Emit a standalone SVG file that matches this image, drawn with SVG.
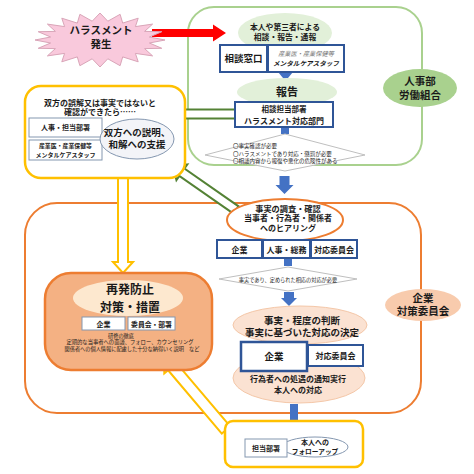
<svg xmlns="http://www.w3.org/2000/svg" width="474" height="474" viewBox="0 0 474 474">
<style>
text{font-family:"Noto Sans CJK JP","Noto Sans",sans-serif;fill:#1a1a1a;text-anchor:middle;font-weight:bold}
.bb{fill:#fff;stroke:#2f5597;stroke-width:2}
.gb{fill:#fff;stroke:#8497b0;stroke-width:1}
.dia{fill:#fff;stroke:#bfbfbf;stroke-width:1}
.blue{fill:#4472c4}
.garr{fill:#fff;stroke:#548235;stroke-width:2;stroke-linejoin:miter}
.yarr{fill:#fff;stroke:#ffc000;stroke-width:2}
.lg{fill:#e2f0d9}
.sm{font-weight:normal}
</style>
<rect width="474" height="474" fill="#fff"/>
<g id="frame-hr">
<rect x="188" y="7" width="234" height="158" rx="26" fill="none" stroke="#a9d18e" stroke-width="2"/>
</g>
<g id="frame-committee">
<rect x="25" y="203" width="396" height="210" rx="32" fill="none" stroke="#ed7d31" stroke-width="2"/>
</g>
<g id="connectors">
<polygon points="152,29 213,29 213,24.5 226,33 213,41.5 213,37 152,37" fill="#ff0000"/>
<polygon class="garr" points="0,-4.5 51,-4.5 51,-9 61,0 51,9 51,4.5 0,4.5" transform="translate(236,114) rotate(180)"/>
<polygon class="garr" points="0,-4.5 66,-4.5 66,-9.5 77,0 66,9.5 66,4.5 0,4.5" transform="translate(236,210) rotate(214.9)"/>
<polygon class="yarr" points="0,-5 84,-5 84,-10 95,0 84,10 84,5 0,5" transform="translate(123,178) rotate(90)"/>
<polygon class="yarr" points="0,-5.5 83,-5.5 83,-10.5 96,0 83,10.5 83,5.5 0,5.5" transform="translate(226,430) rotate(229.7)"/>
<polygon class="blue" points="278,72 293,72 285.5,81"/>
<rect class="blue" x="281" y="128" width="8" height="6"/>
<polygon class="blue" points="279.5,176 289.5,176 289.5,185 293.5,185 284.5,194 275.5,185 279.5,185"/>
<rect class="blue" x="284" y="258" width="8" height="8"/>
<polygon class="blue" points="284,292 294,292 294,298 297,298 289,306 281,298 284,298"/>
<polygon class="blue" points="290,404 298,404 298,427 301.5,427 294,436 286.5,427 290,427"/>
</g>
<g id="harassment">
<polygon points="165,40 149.4,43 161.8,48.3 144.6,48.6 152.6,55.9 135.4,53.4 138.2,61.8 122.7,56.9 120.1,65.7 107.8,58.8 100,67 92.2,58.8 79.9,65.7 77.3,56.9 61.8,61.8 64.6,53.4 47.4,55.9 55.4,48.6 38.2,48.3 50.6,43 35,40 50.6,37 38.2,31.7 55.4,31.4 47.4,24.1 64.6,26.6 61.8,18.2 77.3,23.1 79.9,14.3 92.2,21.2 100,13 107.8,21.2 120.1,14.3 122.7,23.1 138.2,18.2 135.4,26.6 152.6,24.1 144.6,31.4 161.8,31.7 149.4,37" fill="#f9c9dc" stroke="#d9a5b8" stroke-width="1"/>
<text x="101" y="34" font-size="10.5">ハラスメント</text>
<text x="101" y="47.5" font-size="10.5">発生</text>
</g>
<g id="report-source">
<ellipse class="lg" cx="285" cy="33" rx="47" ry="20"/>
<text x="285" y="29.5" font-size="7.8">本人や第三者による</text>
<text x="285" y="40" font-size="7.8">相談・報告・通報</text>
</g>
<g id="consult-desk">
<rect class="bb" x="220" y="45" width="47" height="27"/>
<text x="243.5" y="62" font-size="9.5">相談窓口</text>
<rect class="bb" x="268" y="45" width="76" height="27"/>
<text x="306" y="55.5" font-size="6.2" font-style="italic" class="sm" style="fill:#777">産業医・産業保健等</text>
<text x="306" y="66" font-size="6.6" font-style="italic">メンタルケアスタッフ</text>
</g>
<g id="report">
<ellipse class="lg" cx="287" cy="92" rx="50" ry="14"/>
<text x="287" y="96" font-size="11">報告</text>
</g>
<g id="dept">
<rect class="bb" x="235" y="102" width="98" height="25"/>
<text x="284" y="112" font-size="7.5">相談担当部署</text>
<text x="284" y="123.5" font-size="8">ハラスメント対応部門</text>
</g>
<g id="decision1">
<polygon class="dia" points="205,155 285,134 365,155 285,171"/>
<text x="233" y="148" font-size="5.5" class="sm" style="text-anchor:start">〇事実確認が必要</text>
<text x="233" y="155.6" font-size="5.5" class="sm" style="text-anchor:start">〇ハラスメントであり対応・懲罰が必要</text>
<text x="233" y="163.2" font-size="5.5" class="sm" style="text-anchor:start">〇相談内容から報復や悪化の危険性がある</text>
</g>
<g id="hr-union">
<ellipse cx="420" cy="88" rx="37" ry="19" fill="#a9d18e"/>
<text x="420" y="85" font-size="10.5">人事部</text>
<text x="420" y="98.5" font-size="10.5">労働組合</text>
</g>
<g id="misunderstanding">
<rect x="25" y="86" width="160" height="92" rx="16" fill="#fff" stroke="#ffc000" stroke-width="2.5"/>
<text x="100" y="105.5" font-size="8">双方の誤解又は事実ではないと</text>
<text x="100" y="115" font-size="8">確認ができたら……</text>
<rect class="gb" x="29" y="118" width="73" height="19"/>
<text x="65.5" y="130" font-size="7">人事・担当部署</text>
<rect class="gb" x="29" y="140" width="73" height="20"/>
<text x="65.5" y="148" font-size="5.9">産業医・産業保健等</text>
<text x="65.5" y="156.5" font-size="6">メンタルケアスタッフ</text>
<ellipse cx="137" cy="139" rx="37" ry="20" fill="#f3f4f8" stroke="#8497b0" stroke-width="1"/>
<text x="137" y="135.5" font-size="9.5">双方への説明、</text>
<text x="137" y="148" font-size="9.5">和解への支援</text>
</g>
<g id="investigation">
<ellipse cx="285" cy="220" rx="58" ry="21" fill="#fff" stroke="#ed7d31" stroke-width="2"/>
<text x="288" y="211.5" font-size="8.2">事実の調査・確認</text>
<text x="288" y="221" font-size="8">当事者・行為者・関係者</text>
<text x="288" y="230.5" font-size="8">へのヒアリング</text>
</g>
<g id="investigators">
<rect class="bb" x="217" y="240" width="45" height="18"/>
<text x="239.5" y="252.5" font-size="8">企業</text>
<rect class="bb" x="263" y="240" width="47" height="18"/>
<text x="286.5" y="252.5" font-size="8">人事・総務</text>
<rect class="bb" x="311" y="240" width="46" height="18"/>
<text x="334" y="252.5" font-size="8">対応委員会</text>
</g>
<g id="decision2">
<polygon class="dia" points="219,279 288,267 357,279 288,291"/>
<text x="288" y="281.5" font-size="5.2" class="sm">事実であり、定められた相応の対応が必要</text>
</g>
<g id="committee">
<ellipse cx="423" cy="305" rx="38" ry="16" fill="#f8cbad"/>
<text x="423" y="301.5" font-size="10.5">企業</text>
<text x="423" y="315" font-size="10.5">対策委員会</text>
</g>
<g id="judgement">
<ellipse cx="299" cy="378" rx="66" ry="25" fill="#fbe2d2" stroke="#f4c7a8" stroke-width="1"/>
<ellipse cx="300" cy="325" rx="67" ry="19" fill="#fbe2d2" stroke="#f4c7a8" stroke-width="1"/>
<text x="302" y="323.5" font-size="9.5">事実・程度の判断</text>
<text x="302" y="336" font-size="9.5">事実に基づいた対応の決定</text>
<rect x="308" y="345" width="55" height="21" fill="#fff" stroke="#2f5597" stroke-width="2"/>
<text x="335.5" y="358.5" font-size="8">対応委員会</text>
<rect x="241" y="342" width="66" height="29" fill="#fff" stroke="#2f5597" stroke-width="2.5"/>
<text x="274" y="360" font-size="9.5">企業</text>
<text x="298" y="382" font-size="8">行為者への処遇の通知実行</text>
<text x="298" y="392.5" font-size="8">本人への対応</text>
</g>
<g id="prevention">
<rect x="45" y="273" width="167" height="97" rx="26" fill="#f4b183" stroke="#ed7d31" stroke-width="2.5"/>
<ellipse cx="128" cy="298" rx="55" ry="18" fill="#fde8cf"/>
<text x="130" y="294" font-size="12">再発防止</text>
<text x="130" y="311.5" font-size="12">対策・措置</text>
<rect class="gb" x="82" y="317" width="43" height="13"/>
<text x="103.5" y="326.5" font-size="7">企業</text>
<rect class="gb" x="128" y="317" width="47" height="13"/>
<text x="151.5" y="326.5" font-size="6.8">委員会・部署</text>
<text x="121" y="337.5" font-size="5.2" class="sm">研修の徹底</text>
<text x="130" y="344" font-size="5.3" class="sm">定期的な当事者への面談、フォロー、カウンセリング</text>
<text x="132" y="350.5" font-size="5.2" class="sm">関係者への個人情報に配慮した十分な納得いく説明　など</text>
</g>
<g id="followup">
<rect x="225" y="421" width="138" height="46" rx="8" fill="#fff" stroke="#ffc000" stroke-width="2.5"/>
<ellipse cx="315" cy="447" rx="33" ry="10" fill="#fff" stroke="#8497b0" stroke-width="1"/>
<rect class="gb" x="245" y="439" width="42" height="18"/>
<text x="266" y="451" font-size="7">担当部署</text>
<text x="315" y="444.5" font-size="7">本人への</text>
<text x="315" y="454" font-size="6.7">フォローアップ</text>
</g>
</svg>
